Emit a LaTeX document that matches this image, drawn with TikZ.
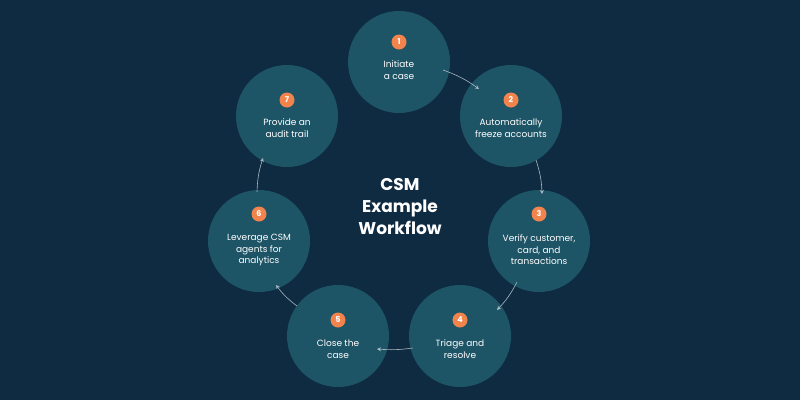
\documentclass[tikz,border=0pt]{standalone}
\usepackage{fontspec}
\setmainfont{Poppins}
\usetikzlibrary{arrows.meta}
\definecolor{bg}{HTML}{0F2B42}
\definecolor{disc}{HTML}{1D5466}
\definecolor{badge}{HTML}{F0844C}
\definecolor{arr}{HTML}{A7B7C2}
\begin{document}
\begin{tikzpicture}[x=1pt,y=-1pt,
  stepdisc/.style={circle,fill=disc,minimum size=102pt,inner sep=0pt},
  num/.style={circle,fill=badge,text=white,minimum size=15pt,inner sep=0pt,font=\fontsize{8}{8}\selectfont\bfseries},
  lab/.style={text=white,align=center,font=\fontsize{9}{11.5}\selectfont},
  con/.style={draw=arr,line width=0.6pt,-{Stealth[length=4pt,width=4pt]}}]
\fill[bg] (0,0) rectangle (800,400);
\useasboundingbox (0,0) rectangle (800,400);
\node[stepdisc] (c1) at (399,62) {};
\node[stepdisc] (c2) at (511,116) {};
\node[stepdisc] (c3) at (539,241) {};
\node[stepdisc] (c4) at (460,336) {};
\node[stepdisc] (c5) at (338,336) {};
\node[stepdisc] (c6) at (259,241) {};
\node[stepdisc] (c7) at (287,116) {};
\node[num] (n1) at (399,42) {1};
\node[num] (n2) at (511,100) {2};
\node[num] (n3) at (539,214) {3};
\node[num] (n4) at (460,320) {4};
\node[num] (n5) at (338,320) {5};
\node[num] (n6) at (259,214) {6};
\node[num] (n7) at (287,100) {7};
\node[lab] (t1) at (399,70) {Initiate\\a case};
\node[lab] (t2) at (511,128) {Automatically\\freeze accounts};
\node[lab] (t3) at (539,250) {Verify customer,\\card, and\\transactions};
\node[lab] (t4) at (460,349) {Triage and\\resolve};
\node[lab] (t5) at (338,349) {Close the\\case};
\node[lab] (t6) at (259,250) {Leverage CSM\\agents for\\analytics};
\node[lab] (t7) at (287,128) {Provide an\\audit trail};
\node[text=white,align=center,font=\fontsize{17}{22}\selectfont\bfseries] (title) at (400,207) {CSM\\Example\\Workflow};
\coordinate (a1) at (443,70); \coordinate (b1) at (479,89);
\coordinate (a2) at (536,160); \coordinate (b2) at (542,194);
\coordinate (a3) at (517,282); \coordinate (b3) at (497,310);
\coordinate (a4) at (413,348); \coordinate (b4) at (377,349);
\coordinate (a5) at (297,306); \coordinate (b5) at (276,285);
\coordinate (a6) at (257,192); \coordinate (b6) at (263,158);
\draw[con] (a1) to[bend left=8] (b1);
\draw[con] (a2) to[bend left=8] (b2);
\draw[con] (a3) to[bend left=8] (b3);
\draw[con] (a4) to[bend left=6] (b4);
\draw[con] (a5) to[bend left=8] (b5);
\draw[con] (a6) to[bend left=8] (b6);
\end{tikzpicture}
\end{document}
